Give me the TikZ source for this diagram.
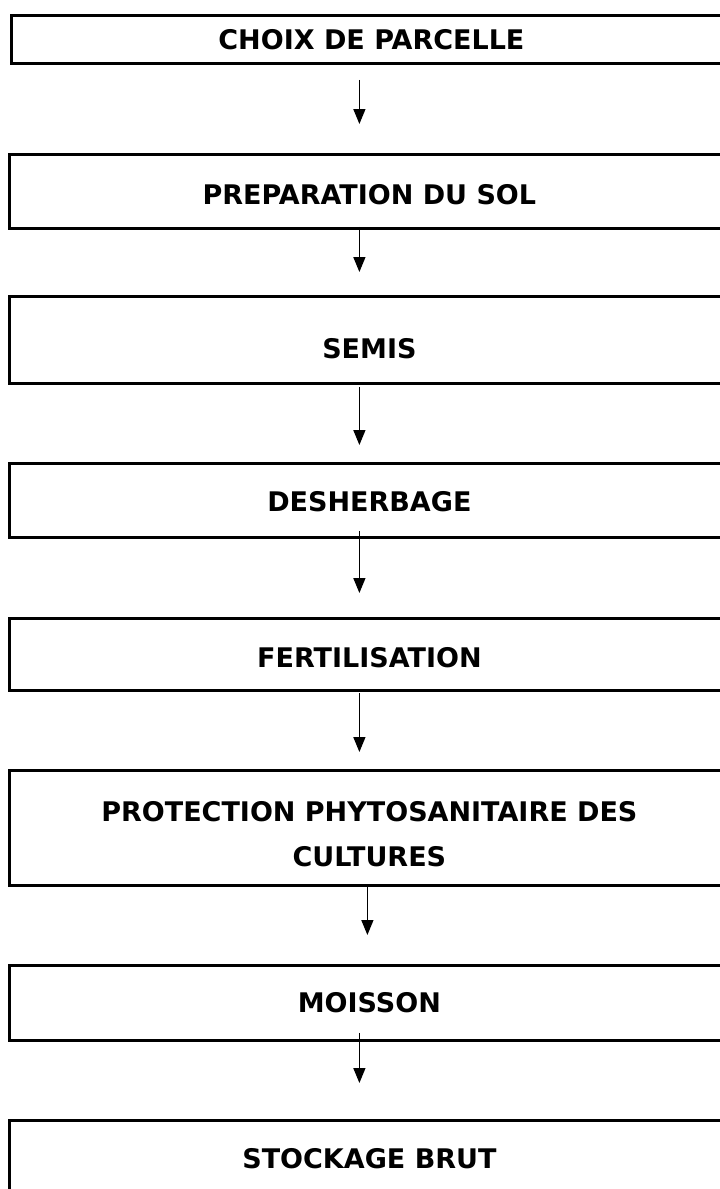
\documentclass[tikz,border=0pt]{standalone}
\usepackage{fontspec}
\setmainfont{DejaVu Sans}
\usetikzlibrary{arrows.meta}
\newcommand{\dn}[2]{\raisebox{\dimexpr-#1-9.8pt\relax}[0pt][0pt]{#2}}
\begin{document}
\begin{tikzpicture}[x=1pt,y=-1pt,
  box/.style={draw,line width=2.8pt,minimum width=720pt,anchor=north west,inner sep=0pt,
    font=\bfseries\fontsize{27}{45}\selectfont,align=center},
  arr/.style={line width=1.4pt,-{Triangle[length=15pt,width=12pt]}}]
\useasboundingbox (0,0) rectangle (720,1189);
\node[box,minimum height=48pt] (b1) at (10,14) {\dn{0pt}{CHOIX DE PARCELLE}};
\node[box,minimum height=74pt] (b2) at (8,153) {\dn{3pt}{PREPARATION DU SOL}};
\node[box,minimum height=87pt] (b3) at (8,295) {\dn{8.5pt}{SEMIS}};
\node[box,minimum height=74pt] (b4) at (8,462) {\dn{1pt}{DESHERBAGE}};
\node[box,minimum height=72pt] (b5) at (8,617) {\dn{3pt}{FERTILISATION}};
\node[box,minimum height=115pt] (b6) at (8,769) {\raisebox{-38.5pt}[0pt][0pt]{\begin{tabular}[b]{@{}c@{}}PROTECTION PHYTOSANITAIRE DES\\CULTURES\end{tabular}}};
\node[box,minimum height=75pt] (b7) at (8,964) {\dn{0pt}{MOISSON}};
\node[box,minimum height=76pt] (b8) at (8,1119) {\dn{0pt}{STOCKAGE BRUT}};
\draw[arr] ([xshift=-12pt,yshift=-15pt]b1.south) -- ([xshift=-10pt,yshift=29pt]b2.north);
\draw[arr] ([xshift=-10pt,yshift=3pt]b2.south) -- ([xshift=-10pt,yshift=23pt]b3.north);
\draw[arr] ([xshift=-10pt,yshift=-2pt]b3.south) -- ([xshift=-10pt,yshift=17pt]b4.north);
\draw[arr] ([xshift=-10pt,yshift=8pt]b4.south) -- ([xshift=-10pt,yshift=24pt]b5.north);
\draw[arr] ([xshift=-10pt,yshift=-1pt]b5.south) -- ([xshift=-10pt,yshift=17pt]b6.north);
\draw[arr] ([xshift=-2pt,yshift=2pt]b6.south) -- ([xshift=-2pt,yshift=29pt]b7.north);
\draw[arr] ([xshift=-10pt,yshift=9pt]b7.south) -- ([xshift=-10pt,yshift=36pt]b8.north);
\end{tikzpicture}
\end{document}
